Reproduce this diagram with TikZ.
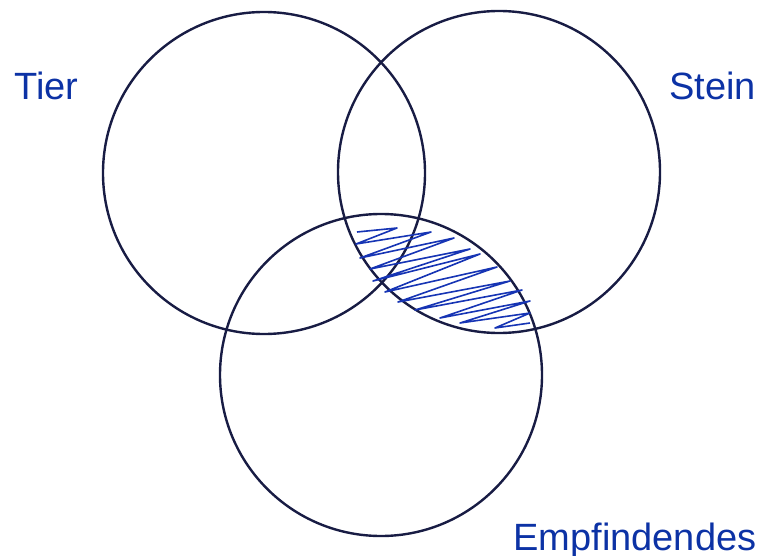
\documentclass[tikz,border=0pt]{standalone}
\usepackage{fontspec}
\setmainfont{Liberation Sans}
\usepackage{tikz}
\definecolor{RingNavy}{RGB}{24,28,68}
\definecolor{LabelBlue}{RGB}{12,50,165}
\definecolor{HatchBlue}{RGB}{22,52,180}
\tikzset{
  ring/.style={circle, draw=RingNavy, line width=1.2pt, inner sep=0pt, minimum size=161pt},
  setlabel/.style={anchor=base west, inner sep=0pt, text=LabelBlue, font=\fontsize{19}{23}\selectfont},
  hatch/.style={draw=HatchBlue, line width=0.8pt, line join=round}
}

\begin{document}
\begin{tikzpicture}[x=0.5pt, y=-0.5pt]
  \useasboundingbox (0,0) rectangle (760,556);
  \node[ring] (tier) at (264,173) {};
  \node[ring] (stein) at (499,172) {};
  \node[ring] (empf) at (381,375) {};
  \node[setlabel] (tierlab) at (14,100) {Tier};
  \node[setlabel] (steinlab) at (669,100) {Stein};
  \node[setlabel] (empflab) at (513,550) {Empfindendes};
  % Schraffur der Schnittmenge Stein / Empfindendes
  \draw[hatch] (357,232) -- (397,228) -- (356,244) -- (431,232) -- (360,258)
    -- (454,238) -- (370,269) -- (470,249) -- (373,281) -- (480,254)
    -- (385,292) -- (497,267) -- (398,302) -- (510,281) -- (415,310)
    -- (522,290) -- (440,318) -- (530,301) -- (460,323) -- (530,313)
    -- (495,328) -- (530,323);
\end{tikzpicture}
\end{document}
